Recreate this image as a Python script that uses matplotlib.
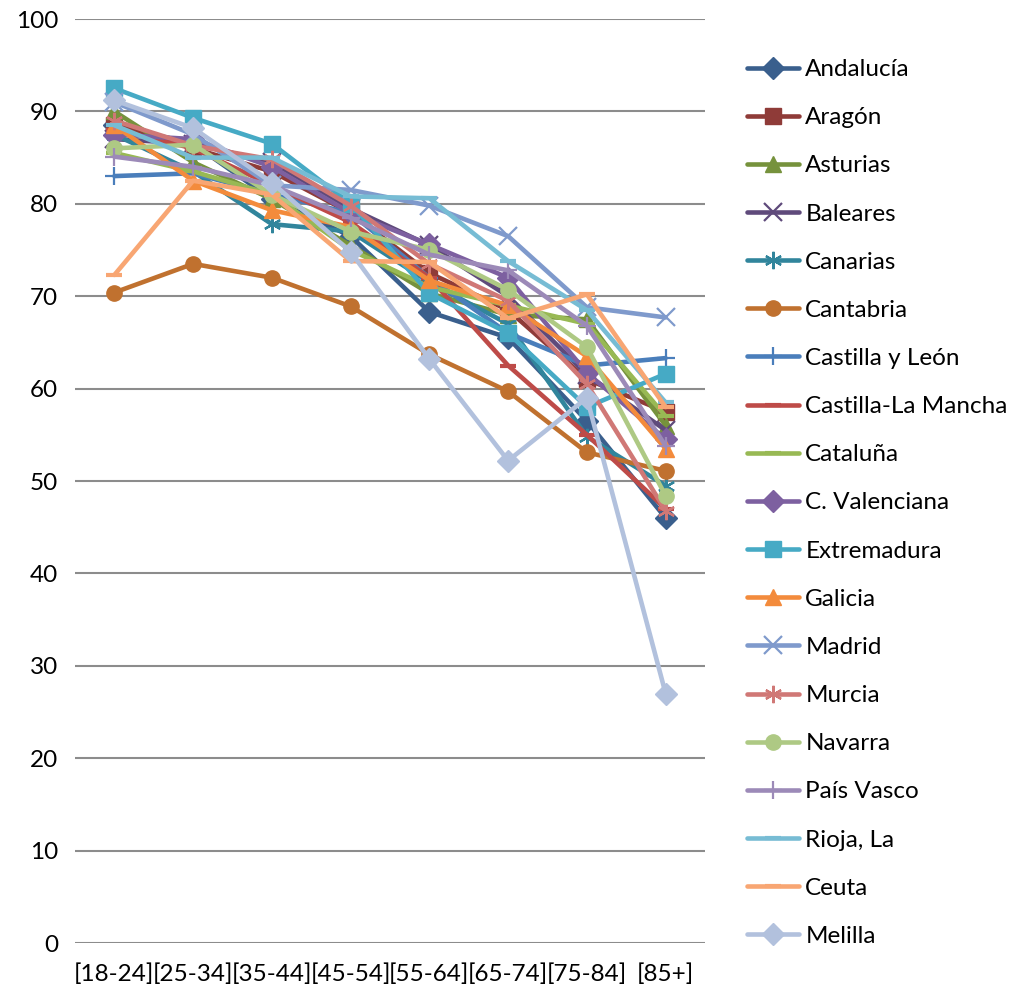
import matplotlib
matplotlib.use("Agg")
import matplotlib.pyplot as plt

plt.rcParams['font.family'] = ['Lato', 'DejaVu Sans']

categories = ["[18-24]", "[25-34]", "[35-44]", "[45-54]", "[55-64]", "[65-74]", "[75-84]", "[85+]"]

andalucia = [88.5, 86.5, 80.5, 76.5, 68.3, 65.5, 56.5, 46.0]
aragon = [88.5, 86.0, 83.5, 79.0, 72.5, 68.5, 61.0, 57.5]
asturias = [90.0, 84.5, 80.5, 75.5, 70.3, 68.0, 67.5, 56.0]
baleares = [87.0, 86.5, 84.5, 79.5, 75.5, 70.0, 61.5, 55.5]
canarias = [87.5, 83.5, 77.8, 77.0, 71.5, 67.0, 54.8, 49.5]
cantabria = [70.4, 73.5, 72.0, 68.9, 63.7, 59.7, 53.1, 51.1]
castilla_leon = [83.0, 83.3, 81.0, 79.0, 72.0, 66.0, 62.5, 63.3]
castilla_mancha = [88.0, 86.0, 82.0, 78.0, 72.0, 62.5, 55.0, 47.0]
cataluna = [85.5, 83.5, 81.0, 75.0, 71.0, 69.0, 67.0, 57.0]
c_valenciana = [87.5, 87.0, 84.0, 79.0, 75.6, 72.0, 61.7, 54.5]
extremadura = [92.5, 89.3, 86.5, 80.0, 70.3, 66.0, 58.0, 61.6]
galicia = [88.5, 82.5, 79.3, 77.5, 71.7, 69.0, 63.5, 53.5]
madrid = [91.0, 87.5, 82.0, 81.5, 79.8, 76.5, 68.8, 67.7]
murcia = [89.0, 86.3, 84.8, 79.8, 73.5, 69.5, 60.5, 46.8]
navarra = [86.0, 86.4, 81.0, 77.0, 75.0, 70.7, 64.5, 48.4]
pais_vasco = [85.1, 84.0, 82.0, 78.5, 74.5, 72.8, 66.8, 53.8]
rioja = [88.5, 85.0, 85.0, 80.8, 80.6, 73.8, 68.5, 58.5]
ceuta = [72.3, 82.5, 81.0, 73.8, 73.7, 67.6, 70.2, 58.0]
melilla = [91.2, 88.2, 82.3, 74.8, 63.2, 52.2, 59.0, 27.0]

series_names = ["Andalucía", "Aragón", "Asturias", "Baleares", "Canarias", "Cantabria",
                "Castilla y León", "Castilla-La Mancha", "Cataluña", "C. Valenciana",
                "Extremadura", "Galicia", "Madrid", "Murcia", "Navarra", "País Vasco",
                "Rioja, La", "Ceuta", "Melilla"]
series_values = [andalucia, aragon, asturias, baleares, canarias, cantabria,
                 castilla_leon, castilla_mancha, cataluna, c_valenciana,
                 extremadura, galicia, madrid, murcia, navarra, pais_vasco,
                 rioja, ceuta, melilla]

colors = ["#3A5F8D", "#8F3B38", "#76923C", "#5F4A7B", "#31859C", "#C0712F",
          "#4A7EBB", "#BE4B48", "#98B954", "#7D60A0", "#46AAC5", "#F38B3C",
          "#7F9ACC", "#D07876", "#AEC984", "#9C8AB8", "#77BCD4", "#F8A673",
          "#B2C1DD"]
ASTER = (6, 2, 0)
markers = ["D", "s", "^", "x", ASTER, "o", "+", "_", "_", "D", "s", "^", "x", ASTER,
           "o", "+", "_", "_", "D"]

fig = plt.figure(figsize=(10.14, 9.93), dpi=100)
ax = fig.add_axes([75/1014, 1-943/993, 630/1014, 924/993])

x = list(range(len(categories)))
handles = []
for name, vals, c, m in zip(series_names, series_values, colors, markers):
    filled = m in ("D", "s", "^", "o")
    ms = 11 if filled else 12.5
    mew = 1 if filled else 1.6
    if m == "_":
        ms, mew = 12, 3
    h, = ax.plot(x, vals, color=c, lw=3.3, marker=m, markersize=ms,
                 markeredgewidth=mew, markerfacecolor=c,
                 markeredgecolor=c, solid_capstyle='round', label=name)
    handles.append(h)

ax.set_xlim(-0.5, 7.5)
ax.set_ylim(0, 100)
ax.set_yticks(range(0, 101, 10))
ax.set_xticks(x)
ax.set_xticklabels(categories)
ax.tick_params(axis='both', length=0, labelsize=17.5, colors='black')
ax.tick_params(axis='x', pad=15)
ax.tick_params(axis='y', pad=12)
ax.grid(axis='y', color='#8C8C8C', lw=1.5)
ax.set_axisbelow(True)
for s in ax.spines.values():
    s.set_visible(False)

fig.legend(handles=handles, loc='upper left', bbox_to_anchor=(747/1014, 1-59/993),
           frameon=False, fontsize=17.5, handlelength=2.15, labelspacing=1.117,
           handletextpad=0.25, borderaxespad=0, borderpad=0)

fig.savefig("out.png", dpi=100)
